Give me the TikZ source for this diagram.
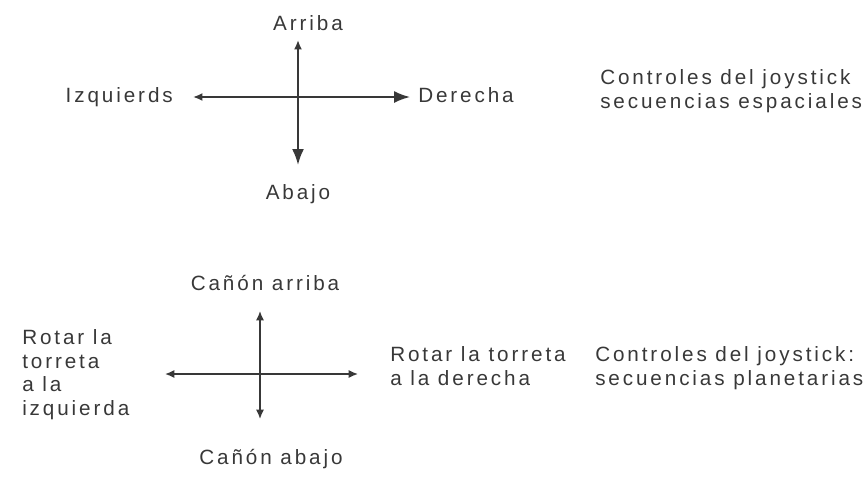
\documentclass[tikz,border=0pt]{standalone}
\usepackage{fontspec}
\usepackage{tikz}
\usetikzlibrary{arrows.meta}
\usetikzlibrary{positioning, calc}
\newfontfamily\joyfont[LetterSpace=14]{Liberation Sans}
\definecolor{ink}{rgb}{0.22,0.22,0.22}

\begin{document}
\begin{tikzpicture}[x=0.75pt, y=-0.75pt,
    lbl/.style={font=\joyfont\fontsize{15.5}{17.6}\selectfont, text=ink, inner sep=0pt, align=left},
    joy/.style={draw=ink, line width=1.6pt},
    tipS/.style={-{Latex[length=7pt,width=6pt]}},
    tipL/.style={-{Latex[length=12pt,width=9pt]}}]
    \useasboundingbox (0,0) rectangle (865,494);

    % SECUENCIAS ESPACIALES
    \coordinate (c1) at (298,97);
    \coordinate (u1) at (298,40);
    \coordinate (d1) at (298,165);
    \coordinate (l1) at (193,97);
    \coordinate (r1) at (410,97);

    \draw[joy, tipS] (c1) -- (u1);
    \draw[joy, tipL] (c1) -- (d1);
    \draw[joy, line width=1.3pt, tipS] (c1) -- (l1);
    \draw[joy, line width=1.3pt, tipL] (c1) -- (r1);

    \node[lbl, anchor=base] (arriba) at (308,30) {Arriba};
    \node[lbl, anchor=base] (abajo) at (298,199) {Abajo};
    \node[lbl, anchor=base east] (izq) at (173,102) {Izquierds};
    \node[lbl, anchor=base west] (der) at (418,102) {Derecha};
    \node[lbl, anchor=base west] (esp) at (600,108)
        {Controles del joystick\\secuencias espaciales};

    % SECUENCIAS PLANETARIAS
    \coordinate (c2) at (260,374);
    \coordinate (u2) at (260,311);
    \coordinate (d2) at (260,419);
    \coordinate (l2) at (165,374);
    \coordinate (r2) at (358,374);

    \foreach \e in {u2, d2, l2, r2}
        \draw[joy, line width=1.1pt, tipS] (c2) -- (\e);

    \node[lbl, anchor=base] (carriba) at (265,290) {Cañón arriba};
    \node[lbl, anchor=base] (cabajo) at (271,464) {Cañón abajo};
    \node[lbl, anchor=base west] (rizq) at (22,415)
        {Rotar la\\torreta\\a la\\izquierda};
    \node[lbl, anchor=base west] (rder) at (390,385)
        {Rotar la torreta\\a la derecha};
    \node[lbl, anchor=base west] (pla) at (595,385)
        {Controles del joystick:\\secuencias planetarias};
\end{tikzpicture}
\end{document}
